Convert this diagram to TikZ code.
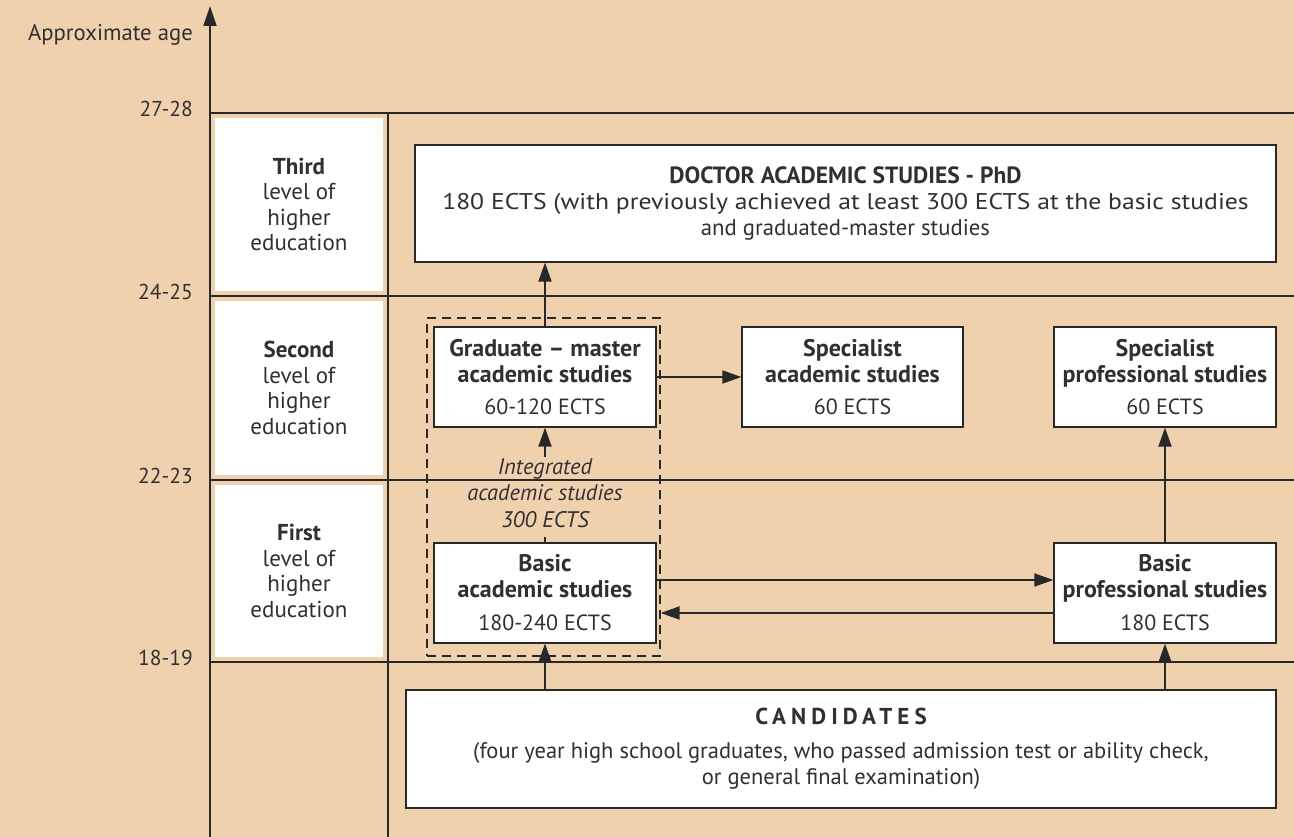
\documentclass[tikz,border=0pt]{standalone}
\usepackage{fontspec}
\usepackage{graphicx}
\setmainfont{PT Sans}
\usetikzlibrary{arrows.meta,calc}
\definecolor{bg}{RGB}{240,209,174}
\definecolor{ink}{RGB}{40,40,40}
\definecolor{txt}{RGB}{48,48,48}
\newcommand\ttl[1]{{\fontsize{24}{27}\selectfont\bfseries #1}}
\begin{document}
\begin{tikzpicture}[x=1pt,y=-1pt,
  every node/.style={text=txt, font=\fontsize{22}{26}\selectfont},
  box/.style={draw=ink, fill=white, line width=1.3pt, align=center, inner sep=0pt},
  lvl/.style={fill=white, align=center, inner sep=0pt, minimum width=168pt, font=\fontsize{23}{25.5}\selectfont},
  gridline/.style={draw=ink, line width=1.9pt},
  arr/.style={draw=ink, line width=1.9pt, -{Triangle[length=19pt,width=13pt]}},
  agelbl/.style={anchor=east, inner sep=0pt, font=\fontsize{21.5}{24}\selectfont}
]
\fill[bg] (0,0) rectangle (1294,837);
\useasboundingbox (0,0) rectangle (1294,837);

% level boxes
\node[lvl, minimum height=173pt] (third) at (299,204.5) {\textbf{Third}\\level of\\higher\\education};
\node[lvl, minimum height=174pt] (second) at (299,388) {\textbf{Second}\\level of\\higher\\education};
\node[lvl, minimum height=172pt] (first) at (299,571) {\textbf{First}\\level of\\higher\\education};

% grid
\coordinate (axb) at (210,837);
\coordinate (axt) at (210,6);
\draw[arr, -{Triangle[length=20pt,width=13pt]}] (axb) -- (axt);
\coordinate (h1a) at (210,113); \coordinate (h1b) at (1294,113);
\coordinate (h2a) at (210,296); \coordinate (h2b) at (1294,296);
\coordinate (h3a) at (210,480); \coordinate (h3b) at (1294,480);
\coordinate (h4a) at (210,662); \coordinate (h4b) at (1294,662);
\draw[gridline] (h1a) -- (h1b);
\draw[gridline] (h2a) -- (h2b);
\draw[gridline] (h3a) -- (h3b);
\draw[gridline] (h4a) -- (h4b);
\coordinate (v2a) at (388,113); \coordinate (v2b) at (388,837);
\draw[gridline] (v2a) -- (v2b);

% age labels
\node[agelbl, font=\fontsize{22.7}{26}\selectfont] (agetitle) at (193,35) {Approximate age};
\node[agelbl] (a1) at (193,109) {27-28};
\node[agelbl] (a2) at (193,292) {24-25};
\node[agelbl] (a3) at (193,476) {22-23};
\node[agelbl] (a4) at (193,658) {18-19};

% dashed integrated frame
\node[draw=ink, line width=1.3pt, dash pattern=on 9pt off 6pt, minimum width=233pt, minimum height=338pt, inner sep=0pt] (dash) at (543.5,487) {};

% study boxes
\node[box, minimum width=861pt, minimum height=117pt] (doc) at (845.5,203.5)
  {{\fontsize{23.5}{26}\selectfont\bfseries DOCTOR ACADEMIC STUDIES - PhD}\\
   \scalebox{1.13}[1]{\fontsize{22.7}{26}\selectfont 180 ECTS (with previously achieved at least 300 ECTS at the basic studies}\\
   {\fontsize{22.7}{26}\selectfont and graduated-master studies}};
\node[box, minimum width=222pt, minimum height=100pt] (grad) at (545,377)
  {\ttl{Graduate -- master}\\\ttl{academic studies}\\[6pt]60-120 ECTS};
\node[box, minimum width=221pt, minimum height=100pt] (speca) at (852.5,377)
  {\ttl{Specialist}\\\ttl{academic studies}\\[6pt]60 ECTS};
\node[box, minimum width=222pt, minimum height=100pt] (specp) at (1165,377)
  {\ttl{Specialist}\\\ttl{professional studies}\\[6pt]60 ECTS};
\node[box, minimum width=222pt, minimum height=100pt] (ba) at (545,593)
  {\ttl{Basic}\\\ttl{academic studies}\\[7pt]180-240 ECTS};
\node[box, minimum width=222pt, minimum height=100pt] (bp) at (1165,593)
  {\ttl{Basic}\\\ttl{professional studies}\\[7pt]180 ECTS};
\node[box, minimum width=870pt, minimum height=118pt] (cand) at (841,749)
  {{\fontsize{23}{26}\selectfont\bfseries\addfontfeature{LetterSpace=22}CANDIDATES}\\[8pt]
   {\fontsize{22.5}{26}\selectfont (four year high school graduates, who passed admission test or ability check,}\\
   {\fontsize{22.5}{26}\selectfont or general final examination)}};

% integrated label
\node[align=center, inner sep=0pt, font=\itshape\fontsize{22.5}{26.5}\selectfont] (integ) at (545,493)
  {Integrated\\academic studies\\300 ECTS};
\coordinate (i1) at (545,457);
\coordinate (i2) at (545,537);

% arrows
\draw[arr] (grad.north) -- (grad.north |- doc.south);
\draw[arr] (grad.east) -- (speca.west);
\draw[arr] (i1) -- (grad.south);
\draw[draw=ink, line width=1.9pt] (ba.north) -- (i2);
\coordinate (r1) at ($(ba.east)+(0,-13)$);
\draw[arr] (r1) -- (r1 -| bp.west);
\coordinate (r2) at ($(bp.west)+(0,20)$);
\draw[arr] (r2) -- (r2 -| dash.east);
\draw[arr] (bp.north) -- (specp.south);
\draw[arr] (ba.south |- cand.north) -- (ba.south);
\draw[arr] (bp.south |- cand.north) -- (bp.south);
\end{tikzpicture}
\end{document}
